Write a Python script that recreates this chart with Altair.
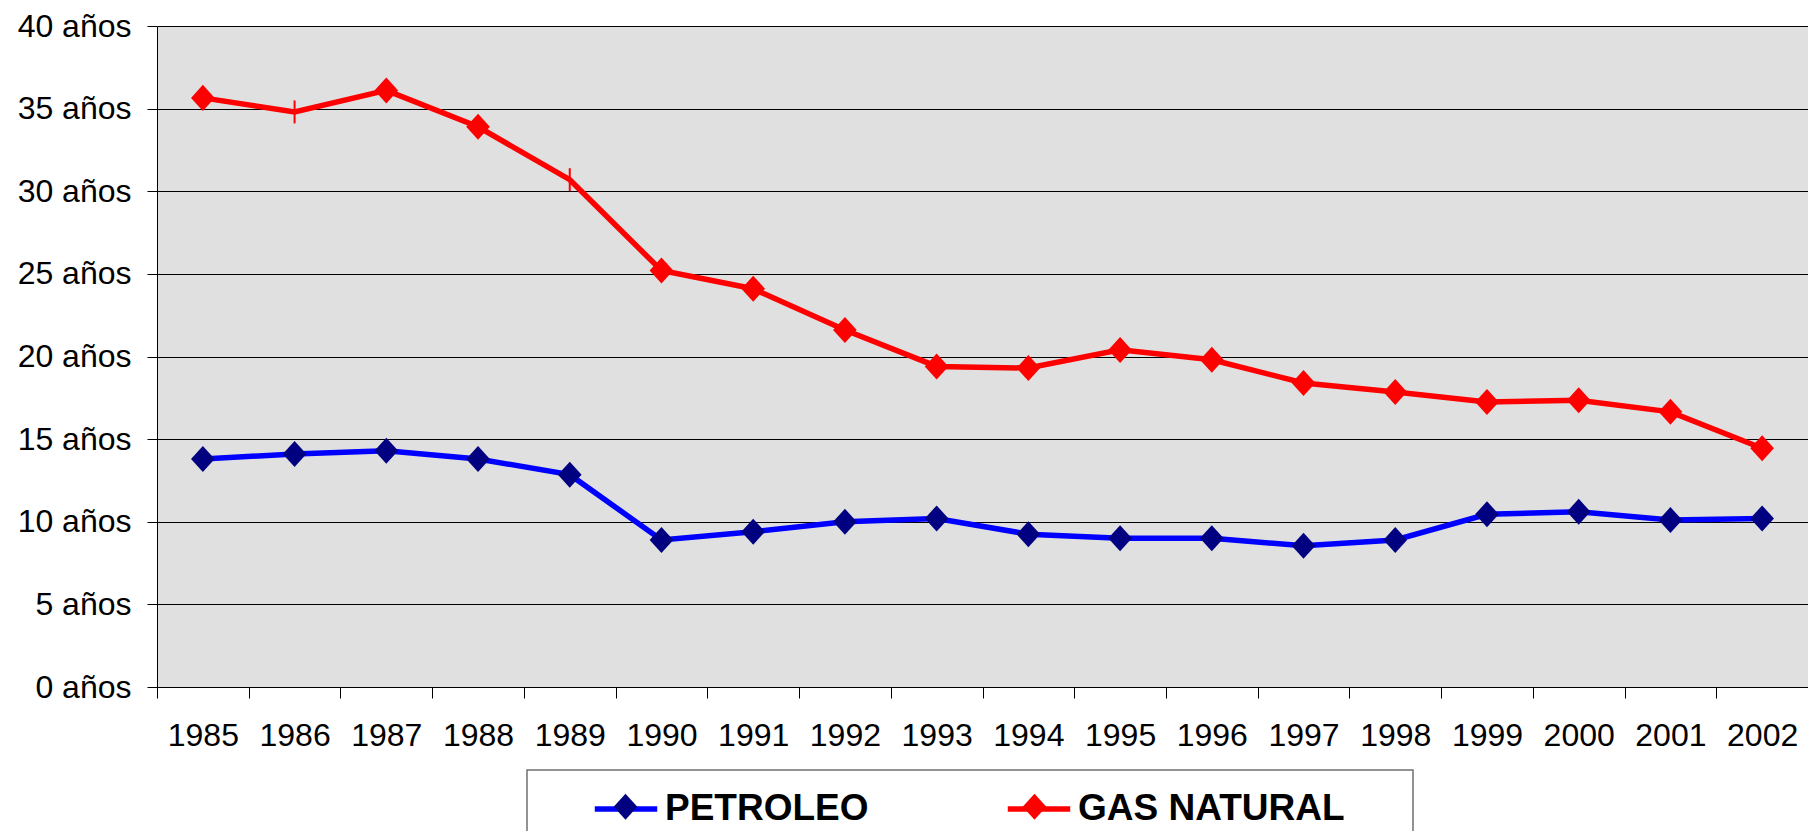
import altair as alt
import pandas as pd

# ---- data ----
years = [1985, 1986, 1987, 1988, 1989, 1990, 1991, 1992, 1993,
         1994, 1995, 1996, 1997, 1998, 1999, 2000, 2001, 2002]
petroleo = [13.8, 14.1, 14.3, 13.8, 12.85, 8.9, 9.4, 10.0, 10.2,
            9.25, 9.0, 9.0, 8.55, 8.9, 10.45, 10.6, 10.1, 10.2]
gas_natural = [35.65, 34.8, 36.1, 33.9, 30.7, 25.2, 24.1, 21.6, 19.4,
               19.3, 20.4, 19.8, 18.4, 17.85, 17.25, 17.35, 16.65, 14.45]
gas_marcador = ["rombo", "linea", "rombo", "rombo", "linea", "rombo",
                "rombo", "rombo", "rombo", "rombo", "rombo", "rombo",
                "rombo", "rombo", "rombo", "rombo", "rombo", "rombo"]
series = ["PETROLEO", "GAS NATURAL"]
line_colors = ["#0000FF", "#FF0000"]
marker_colors = ["#000080", "#FF0000"]
y_ticks = [0, 5, 10, 15, 20, 25, 30, 35, 40]

rows = []
for yr, v in zip(years, petroleo):
    rows.append({"year": yr, "value": v, "serie": "PETROLEO", "marker": "rombo"})
for yr, v, m in zip(years, gas_natural, gas_marcador):
    rows.append({"year": yr, "value": v, "serie": "GAS NATURAL", "marker": m})
df = pd.DataFrame(rows)

FONT = "Liberation Sans"
DIAMOND = "M0,-1.1L1,0L0,1.1L-1,0Z"
VLINE = "M0,-1L0,1"

x_enc = alt.X(
    "year:O",
    scale=alt.Scale(type="band", paddingInner=0, paddingOuter=0),
    axis=alt.Axis(title=None, labelAngle=0, tickBand="extent", tickSize=11,
                  tickColor="black", domainColor="black", labelFontSize=32,
                  labelFont=FONT, labelColor="black", labelPadding=22, grid=False),
)
y_enc = alt.Y(
    "value:Q",
    scale=alt.Scale(domain=[0, 40], nice=False),
    axis=alt.Axis(title=None, values=y_ticks, labelExpr="datum.value + ' años'",
                  labelFontSize=32, labelFont=FONT, labelColor="black",
                  labelPadding=16, tickSize=10, tickColor="black",
                  domainColor="black", grid=True, gridColor="black",
                  gridOpacity=1, gridWidth=1),
)

base = alt.Chart(df)

lines = base.mark_line(strokeWidth=5.5).encode(
    x=x_enc,
    y=y_enc,
    stroke=alt.Stroke(
        "serie:N",
        scale=alt.Scale(domain=series, range=line_colors),
        legend=alt.Legend(title=None, orient="none", legendX=435, legendY=749,
                          direction="horizontal", symbolType="stroke",
                          symbolSize=3900, symbolStrokeWidth=5.5, padding=0,
                          labelFont=FONT, labelFontSize=37, labelFontWeight="bold",
                          labelColor="black", labelOffset=5, labelLimit=500,
                          columnPadding=127),
    ),
)

points = base.transform_filter("datum.marker == 'rombo'").mark_point(
    shape=DIAMOND, filled=True, size=560, opacity=1, strokeWidth=0
).encode(
    x=x_enc,
    y=y_enc,
    fill=alt.Fill(
        "serie:N",
        sort=series,
        scale=alt.Scale(range=marker_colors),
        legend=alt.Legend(title=None, orient="none", legendX=450, legendY=762,
                          direction="horizontal", symbolType=DIAMOND,
                          symbolSize=560, symbolStrokeWidth=0, symbolOpacity=1,
                          padding=0, labelExpr="''", labelOffset=0,
                          labelFontSize=37, columnPadding=372),
    ),
)

ticks = base.transform_filter("datum.marker == 'linea'").mark_point(
    shape=VLINE, filled=False, size=529, strokeWidth=2, color="#FF0000", opacity=1
).encode(x=x_enc, y=y_enc)

box = alt.Chart(pd.DataFrame({"k": [0]})).mark_rect(
    fill="white", stroke="#707070", strokeWidth=1.5
).encode(x=alt.value(370), x2=alt.value(1256), y=alt.value(744), y2=alt.value(830))

chart = alt.layer(box, lines, points, ticks).properties(
    width=1651,
    height=661,
    padding={"left": 149, "top": 18, "right": 0, "bottom": 144},
    autosize=alt.AutoSizeParams(type="none"),
).configure_view(fill="#E0E0E0", stroke="transparent")

chart.save("out.html", embed_options={"renderer": "svg", "actions": False})
